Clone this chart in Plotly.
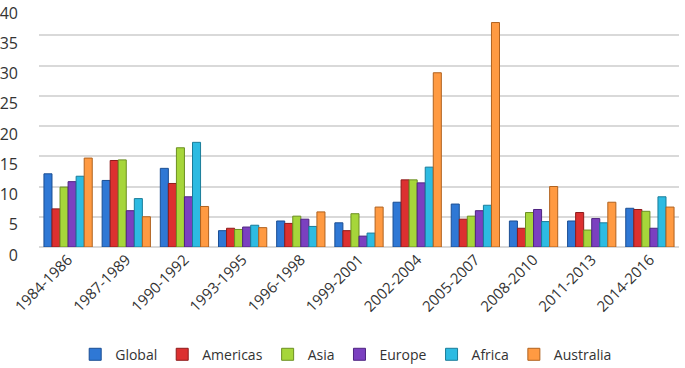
import plotly.graph_objects as go

periods = ["1984-1986", "1987-1989", "1990-1992", "1993-1995", "1996-1998", "1999-2001",
           "2002-2004", "2005-2007", "2008-2010", "2011-2013", "2014-2016"]

global_vals = [12.1, 11.0, 13.0, 2.7, 4.3, 4.0, 7.4, 7.1, 4.3, 4.3, 6.4]
americas_vals = [6.3, 14.3, 10.5, 3.1, 3.9, 2.7, 11.1, 4.6, 3.1, 5.7, 6.2]
asia_vals = [9.9, 14.4, 16.4, 2.9, 5.1, 5.5, 11.1, 5.1, 5.7, 2.8, 5.9]
europe_vals = [10.8, 6.0, 8.3, 3.3, 4.6, 1.8, 10.6, 6.0, 6.2, 4.7, 3.1]
africa_vals = [11.7, 8.0, 17.3, 3.6, 3.4, 2.3, 13.2, 6.9, 4.2, 4.0, 8.3]
australia_vals = [14.7, 5.0, 6.7, 3.2, 5.8, 6.6, 28.8, 37.1, 10.0, 7.4, 6.6]

series = [
    ("Global", global_vals, "#2F78D5", "#1B4E93"),
    ("Americas", americas_vals, "#DC3030", "#8E1B1B"),
    ("Asia", asia_vals, "#A6D63A", "#6C8F22"),
    ("Europe", europe_vals, "#7B40C0", "#4E2480"),
    ("Africa", africa_vals, "#2DBBE2", "#1A7C99"),
    ("Australia", australia_vals, "#FF9A42", "#B0621F"),
]

fig = go.Figure()
for name, vals, col, edge in series:
    fig.add_trace(go.Bar(
        x=periods, y=vals, name=name,
        marker=dict(color=col, line=dict(color=edge, width=1)),
    ))

fig.update_layout(
    width=685, height=368,
    barmode="group", bargap=0.17, bargroupgap=0.0,
    plot_bgcolor="white", paper_bgcolor="white",
    margin=dict(l=39, r=6, t=5, b=121, autoexpand=False),
    font=dict(family="Open Sans, Liberation Sans, sans-serif", size=14, color="#333333"),
    xaxis=dict(tickangle=-45, showgrid=False, tickfont=dict(size=15, color="#333333"),
               showline=False, ticks="", automargin=False),
    yaxis=dict(range=[0, 40], dtick=5, showgrid=True, gridcolor="#D9D9D9", gridwidth=1.5,
               zeroline=True, zerolinecolor="#D9D9D9", zerolinewidth=1.5,
               tickfont=dict(size=16, color="#333333"), ticklabelstandoff=20,
               ticklabelshift=8, ticklabeloverflow="allow", automargin=False),
    legend=dict(orientation="h", x=0.48, xanchor="center", y=-0.445, yanchor="middle",
                font=dict(size=14, color="#333333"), itemwidth=30, traceorder="normal"),
)

fig.write_html("out.html", config={"displayModeBar": False},
               post_script="document.body.style.margin='0px';")
